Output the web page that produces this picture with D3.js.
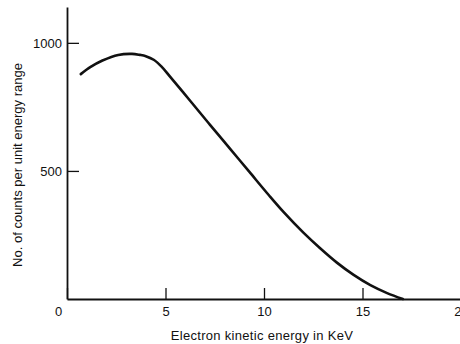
<!DOCTYPE html>
<html>
<head>
<meta charset="utf-8">
<script src="https://cdn.jsdelivr.net/npm/d3@7"></script>
<style>
  html, body { margin: 0; padding: 0; background: #fff; overflow: hidden; }
  svg { display: block; font-family: "Liberation Sans", Arial, sans-serif; }
</style>
</head>
<body>
<svg id="chart" width="460" height="344"></svg>
<script>
// Beta-decay electron energy spectrum
const energyKeV = [0.7, 1.2, 1.8, 2.6, 3.3, 3.7, 4.0, 4.4, 4.8, 5.23, 6.25, 7.25, 8.25, 9.25, 10.25, 11.0, 12.0, 12.85, 13.7, 14.55, 15.4, 16.25, 17.05];
const counts    = [878, 906, 931, 953, 957, 953, 948, 934, 907, 868, 774, 681, 589, 497, 405, 339, 259, 198, 142, 94, 54, 23, 0];
const xTicks = [0, 5, 10, 15, 20];
const yTicks = [500, 1000];
const xTitle = "Electron kinetic energy in KeV";
const yTitle = "No. of counts per unit energy range";

const svg = d3.select("#chart");
const x = d3.scaleLinear().domain([0, 20]).range([67, 461]);
const y = d3.scaleLinear().domain([0, 1140]).range([299, 7]);

const ink = "#111";
const font = "Liberation Sans, Arial, sans-serif";

// x axis: ticks point up into the plot, labels below
const gx = svg.append("g")
  .attr("transform", `translate(0,${y(0)})`)
  .call(d3.axisBottom(x).tickValues(xTicks).tickFormat(d3.format("d"))
    .tickSizeInner(-11).tickSizeOuter(0).tickPadding(8));
gx.select(".domain").attr("stroke", ink).attr("stroke-width", 1.8);
gx.selectAll(".tick line").attr("stroke", ink).attr("stroke-width", 1.3);
gx.selectAll(".tick text").attr("fill", ink).attr("font-size", 13)
  .attr("font-family", font)
  .attr("dx", d => d === 0 ? -9 : 0);

// y axis: ticks point right into the plot
const gy = svg.append("g")
  .attr("transform", `translate(${x(0)},0)`)
  .call(d3.axisLeft(y).tickValues(yTicks).tickFormat(d3.format("d"))
    .tickSizeInner(-12).tickSizeOuter(0).tickPadding(5));
gy.select(".domain").attr("stroke", ink).attr("stroke-width", 1.8);
gy.selectAll(".tick line").attr("stroke", ink).attr("stroke-width", 1.3);
gy.selectAll(".tick text").attr("fill", ink).attr("font-size", 13)
  .attr("font-family", font);

// spectrum curve
const pts = energyKeV.map((e, i) => [e, counts[i]]);
svg.append("path")
  .datum(pts)
  .attr("fill", "none")
  .attr("stroke", ink)
  .attr("stroke-width", 2.6)
  .attr("stroke-linecap", "round")
  .attr("stroke-linejoin", "round")
  .attr("d", d3.line().x(d => x(d[0])).y(d => y(d[1])).curve(d3.curveCatmullRom.alpha(0.5)));

// axis titles
svg.append("text")
  .attr("x", 262).attr("y", 340)
  .attr("text-anchor", "middle")
  .attr("font-size", 13)
  .attr("letter-spacing", 0.3)
  .attr("fill", ink)
  .text(xTitle);

svg.append("text")
  .attr("transform", "translate(22,165) rotate(-90)")
  .attr("text-anchor", "middle")
  .attr("font-size", 13)
  .attr("fill", ink)
  .text(yTitle);
</script>
</body>
</html>
